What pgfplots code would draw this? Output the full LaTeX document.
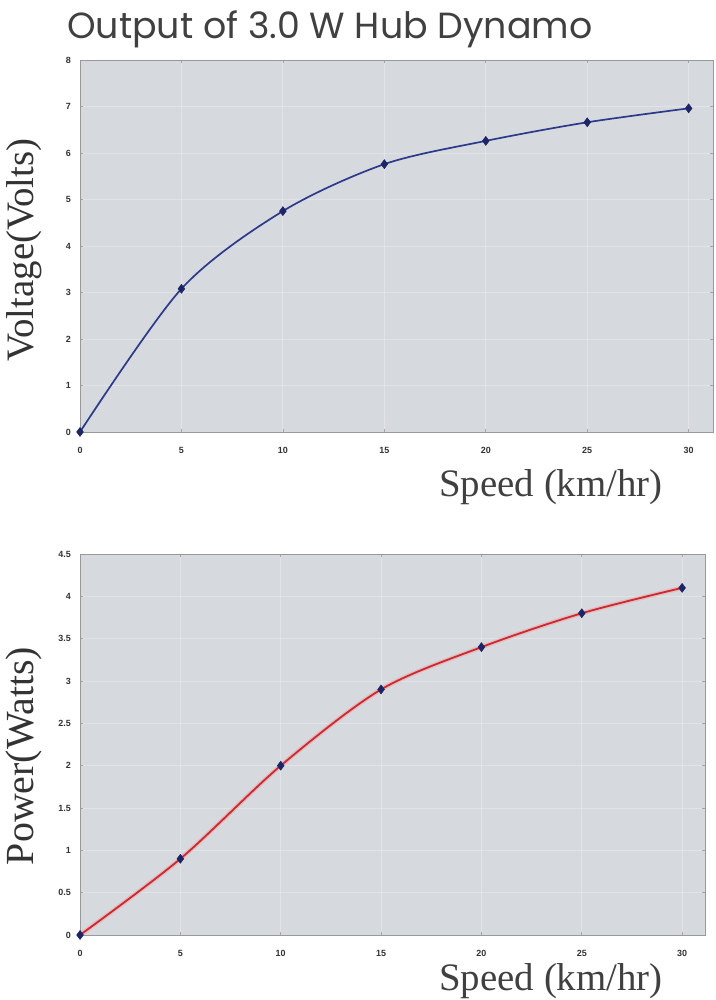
\documentclass[border=0pt]{standalone}
\usepackage{fontspec}
\setmainfont{Liberation Serif}
\newfontfamily\ticksf{Liberation Sans}
\newfontfamily\titlef{Poppins}
\usepackage{pgfplots}
\pgfplotsset{compat=1.18}
\definecolor{bgc}{HTML}{D6D9DE}
\definecolor{vblue}{HTML}{2C3A8A}
\definecolor{pred}{HTML}{CC2A2F}
\definecolor{mk}{HTML}{1C2566}
\pgfplotsset{dyn/.style={
  scale only axis, clip=false,
  axis background/.style={fill=bgc},
  axis line style={draw=black!40, line width=0.8bp},
  grid=major,
  major grid style={draw=white, opacity=0.28, line width=0.8bp},
  tick align=inside, major tick length=3bp,
  tick style={draw=black!35, line width=0.6bp},
  /pgf/number format/assume math mode=true,
  ticklabel style={font=\ticksf\bfseries\fontsize{9}{10}\selectfont, text=black!80, inner sep=0pt},
  xticklabel style={yshift=-15bp},
  yticklabel style={xshift=-9bp},
  xtick={0,5,...,30},
  xmin=0, ymin=0,
}}
\pgfplotstableread{
x y
0 0
5 3.08
10 4.75
15 5.76
20 6.26
25 6.66
30 6.96
}\volt
\pgfplotstableread{
x y
0 0
5 0.9
10 2.0
15 2.9
20 3.4
25 3.8
30 4.1
}\power
\begin{document}
\begin{tikzpicture}[x=1bp,y=1bp]
\useasboundingbox (0,0) rectangle (716,1000);
\node[anchor=base west, inner sep=0pt, text=black!75, font=\titlef\fontsize{36.5}{40}\selectfont] at (67,961) {Output of 3.0 W Hub Dynamo};
\begin{axis}[dyn, at={(80bp,568bp)}, anchor=south west, width=633bp, height=372bp,
  xmax=31.2, ymax=8, ytick={0,1,...,8}]
\addplot[vblue, line width=1.7bp, smooth, mark=diamond*, mark size=4.5bp, mark options={fill=mk, draw=mk, line width=0.5bp}] table[x=x,y=y] {\volt};
\end{axis}
\node[rotate=90, anchor=base, inner sep=0pt, text=black!80, font=\fontsize{39}{43}\selectfont] at (33,750) {Voltage(Volts)};
\node[anchor=base, inner sep=0pt, text=black!75, font=\fontsize{39}{42}\selectfont] at (551,503) {Speed (km/hr)};
\begin{axis}[dyn, at={(80bp,65bp)}, anchor=south west, width=625bp, height=381bp,
  xmax=31.14, ymax=4.5, ytick={0,0.5,...,4.5}]
\addplot[pred!40, line width=4.5bp, smooth, opacity=0.6, forget plot] table[x=x,y=y] {\power};
\addplot[pred, line width=1.8bp, smooth, mark=diamond*, mark size=4.5bp, mark options={fill=mk, draw=mk, line width=0.5bp}] table[x=x,y=y] {\power};
\end{axis}
\node[rotate=90, anchor=base, inner sep=0pt, text=black!80, font=\fontsize{40}{44}\selectfont] at (33,244) {Power(Watts)};
\node[anchor=base, inner sep=0pt, text=black!75, font=\fontsize{39}{42}\selectfont] at (551,9) {Speed (km/hr)};
\end{tikzpicture}
\end{document}
